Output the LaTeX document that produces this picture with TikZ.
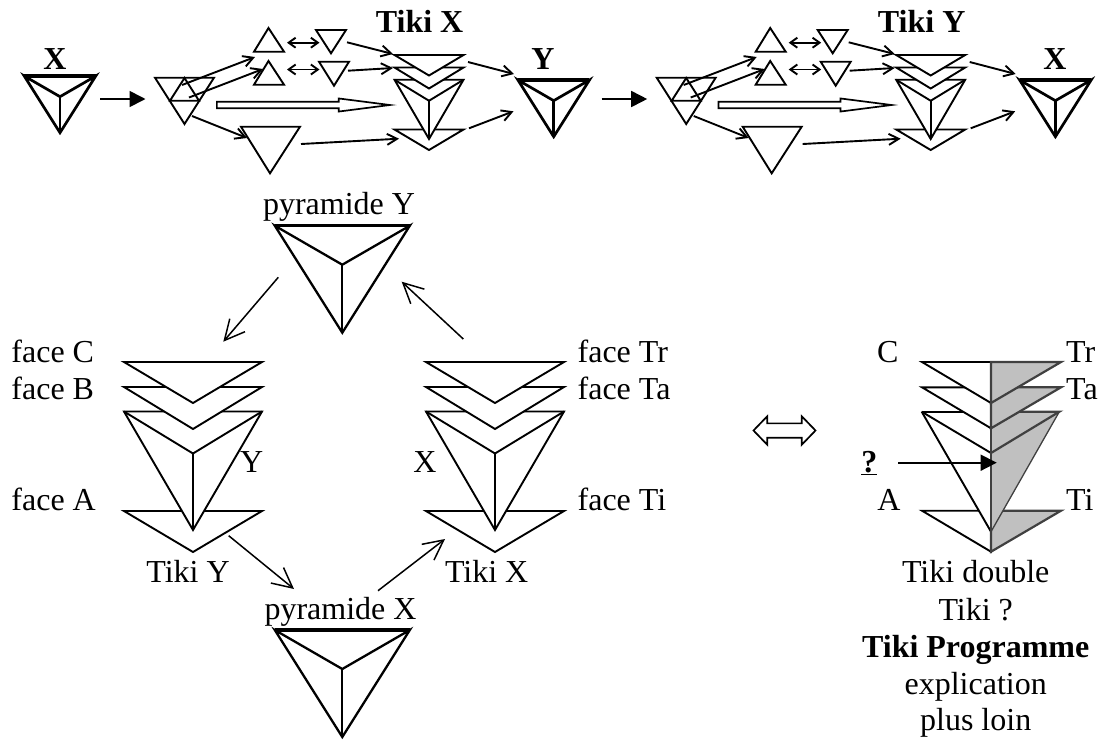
\documentclass[tikz,border=0pt]{standalone}
\usepackage{fontspec}
\setmainfont{Liberation Serif}
\usetikzlibrary{arrows.meta, shapes.arrows}
\definecolor{grisface}{RGB}{192, 192, 192}
\definecolor{grisbord}{RGB}{64, 64, 64}
\tikzset{
    lbl/.style={
        font=\fontsize{32}{37}\selectfont, inner sep=0pt, anchor=base
    },
    lblgras/.style={
        lbl, font=\fontsize{32}{37}\selectfont\bfseries
    },
    ptr/.style={
        -{Straight Barb[length=10pt, width=11pt]}, line width=1.9pt
    },
    dblptr/.style={
        {Straight Barb[length=7pt, width=10pt]}-{Straight Barb[length=7pt, width=10pt]}, line width=1.9pt
    },
    bigptr/.style={
        -{Straight Barb[length=20pt, width=20pt]}, line width=1.5pt
    },
    fullptr/.style={
        -{Triangle[length=16pt, width=16pt]}, line width=1.7pt
    },
    % --- pyramide : sommet gauche, droit, pointe ---
    pics/pyramide/.style={code={
        \draw[fill=white] (-67.5,0) -- (0,107) -- (67.5,0) -- (0,39) -- cycle;
        \draw (0,39) -- (0,107);
        \draw[line width=3.2pt] (-67.5,0) -- (67.5,0);
    }},
    % --- tiki : faces C, B, pyramide, face A ---
    pics/tiki/.style={code={
        \draw[fill=white] (-69,149) -- (69,149) -- (0,190) -- cycle;
        \draw[fill=white] (-69,49.5) -- (69,49.5) -- (0,168) -- cycle;
        \draw (-69,49.5) -- (0,91.5) -- (69,49.5);
        \draw (0,91.5) -- (0,168);
        \draw[fill=white] (-69,25) -- (69,25) -- (0,67) -- cycle;
        \draw[fill=white] (-69,0) -- (69,0) -- (0,41) -- cycle;
    }},
    % --- demi face blanche / grise ---
    pics/demiface/.style={code={
        \draw[fill=white] (0,0) -- (-69,0) -- (0,41) -- cycle;
        \draw[fill=grisface, draw=grisbord, line width=2.2pt] (0,0) -- (70,0) -- (0,41) -- cycle;
    }},
    % --- rangee du haut : fleche, decomposition, tiki, pyramide ---
    pics/rangee/.style={code={
        \draw[fill=white] (155,77.7) -- (214,77.7) -- (184.5,124) -- cycle;
        \draw (184.5,78) -- (170,100.7) -- (199,100.7) -- cycle;
        \draw[fill=white] (254,51.7) -- (284,51.7) -- (268.5,28) -- cycle;
        \draw[fill=white] (254,84.7) -- (284,84.7) -- (268.5,61) -- cycle;
        \draw[fill=white] (316,30) -- (346,30) -- (331,53.3) -- cycle;
        \draw[fill=white] (319,61.7) -- (349,61.7) -- (334,85.7) -- cycle;
        \draw[fill=white] (241,126.7) -- (300,126.7) -- (270,173.3) -- cycle;
        \pic[scale=.5] at (429,55) {tiki};
        \pic[scale=.53, line width=2.7pt] at (553.7,80) {pyramide};
        \node[single arrow, draw, fill=white, line width=1.7pt, anchor=tail,
            minimum height=173pt, minimum width=11.4pt, inner sep=2.4pt,
            single arrow head extend=3.3pt, single arrow tip angle=14.6,
            single arrow head indent=0pt] (-creux) at (216,105) {};
        \coordinate (-go) at (100,99);
        \coordinate (-ge) at (145.5,99);
        \draw[fullptr] (-go) -- (-ge);
        \foreach \nom/\xa/\ya/\xb/\yb in {
            a/182/85/255/57, b/189/97.5/263/69, c/192/116/247/138,
            d/347/42.3/393/54, e/348/70.7/393/68, f/301/144/399/138.7,
            g/468/62/514/74, h/469/128.3/513.5/111.3}{
            \coordinate (-\nom o) at (\xa,\ya);
            \coordinate (-\nom e) at (\xb,\yb);
            \draw[ptr] (-\nom o) -- (-\nom e);
        }
        \foreach \nom/\yy in {i/42.7, j/69.5}{
            \coordinate (-\nom o) at (287,\yy);
            \coordinate (-\nom e) at (319.5,\yy);
            \draw[dblptr] (-\nom o) -- (-\nom e);
        }
    }}
}
\begin{document}
\begin{tikzpicture}[x=1pt, y=-1pt, line width=1.9pt]
    \useasboundingbox (0,0) rectangle (1104,740);

    % --- 1. RANGEE DU HAUT ---
    \pic[scale=.53, line width=2.7pt] (px0) at (60,76) {pyramide};
    \pic (ra) at (0,0) {rangee};
    \pic (rb) at (501.7,0) {rangee};
    \node[lblgras] (lblx0) at (55,69) {X};
    \node[lblgras] (lblty) at (543,69) {Y};
    \node[lblgras] (lblx1) at (1055,69) {X};
    \node[lblgras] (lbltx) at (419.6,32) {Tiki X};
    \node[lblgras] (lbltz) at (921.7,32) {Tiki Y};

    % --- 2. LOSANGE ---
    \pic[line width=2.3pt] (py) at (342.3,225.7) {pyramide};
    \pic[line width=2.3pt] (px) at (342.3,630) {pyramide};
    \pic (ty) at (193,362) {tiki};
    \pic (tx) at (495,362) {tiki};

    \node[lbl] (lblpy) at (339,214.3) {pyramide Y};
    \node[lbl] (lblpx) at (340.5,619) {pyramide X};
    \node[lbl, anchor=base west] (fc) at (10.5,362) {face C};
    \node[lbl, anchor=base west] (fb) at (10.5,399) {face B};
    \node[lbl, anchor=base west] (fa) at (10.5,510) {face A};
    \node[lbl] (lbly) at (251.7,472.7) {Y};
    \node[lbl] (lblx) at (425,472.7) {X};
    \node[lbl] (lbltiy) at (188,582.7) {Tiki Y};
    \node[lbl] (lbltix) at (486.7,582.7) {Tiki X};
    \node[lbl, anchor=base west] (ftr) at (576.7,362) {face Tr};
    \node[lbl, anchor=base west] (fta) at (576.7,399) {face Ta};
    \node[lbl, anchor=base west] (fti) at (576.7,510) {face Ti};

    \coordinate (s1) at (278.3,277.3);
    \coordinate (e1) at (223.3,341.7);
    \coordinate (s2) at (228.7,535.7);
    \coordinate (e2) at (294,589);
    \coordinate (s3) at (378,590.7);
    \coordinate (e3) at (445,539);
    \coordinate (s4) at (463.3,339);
    \coordinate (e4) at (401.7,281.7);
    \foreach \i in {1,...,4}
        \draw[bigptr] (s\i) -- (e\i);

    % --- 3. EQUIVALENCE ---
    \node[double arrow, draw, fill=white, line width=1.7pt,
        minimum height=62pt, minimum width=27pt, inner sep=6.3pt,
        double arrow head extend=7pt, double arrow tip angle=92] (equiv) at (784.5,430.5) {};

    % --- 4. TIKI DOUBLE ---
    \pic at (991,510.7) {demiface};
    \fill[white] (921.7,411.7) -- (991,411.7) -- (991,531.7) -- cycle;
    \fill[grisface] (991,411.7) -- (1059.3,411.7) -- (991,531.7) -- cycle;
    \draw (921.7,411.7) -- (991,411.7);
    \draw[line width=1.3pt, grisbord] (1059.3,411.7) -- (991,531.7);
    \draw (921.7,411.7) -- (991,531.7);
    \draw (921.7,411.7) -- (991,453);
    \draw[grisbord, line width=2.2pt] (991,453) -- (1059.3,411.7) -- (991,411.7);
    \pic at (991,387.3) {demiface};
    \pic at (991,362) {demiface};
    \draw[grisbord, line width=2.2pt] (991,362) -- (991,552);

    \coordinate (qs) at (898,462.7);
    \coordinate (qe) at (996.7,462.7);
    \draw[fullptr] (qs) -- (qe);

    \node[lbl] (dc) at (887.7,362) {C};
    \node[lbl] (da) at (889,510) {A};
    \node[lbl, anchor=base west] (dtr) at (1065.2,362) {Tr};
    \node[lbl, anchor=base west] (dta) at (1065.2,399) {Ta};
    \node[lbl, anchor=base west] (dti) at (1065.2,510) {Ti};
    \node[lblgras] (dq) at (869.3,472.7) {\underline{?}};

    \node[lbl] (t1) at (975.7,582.3) {Tiki double};
    \node[lbl] (t2) at (975.7,620) {Tiki ?};
    \node[lblgras] (t3) at (975.7,657.3) {Tiki Programme};
    \node[lbl] (t4) at (975.7,694) {explication};
    \node[lbl] (t5) at (975.7,730) {plus loin};
\end{tikzpicture}
\end{document}
